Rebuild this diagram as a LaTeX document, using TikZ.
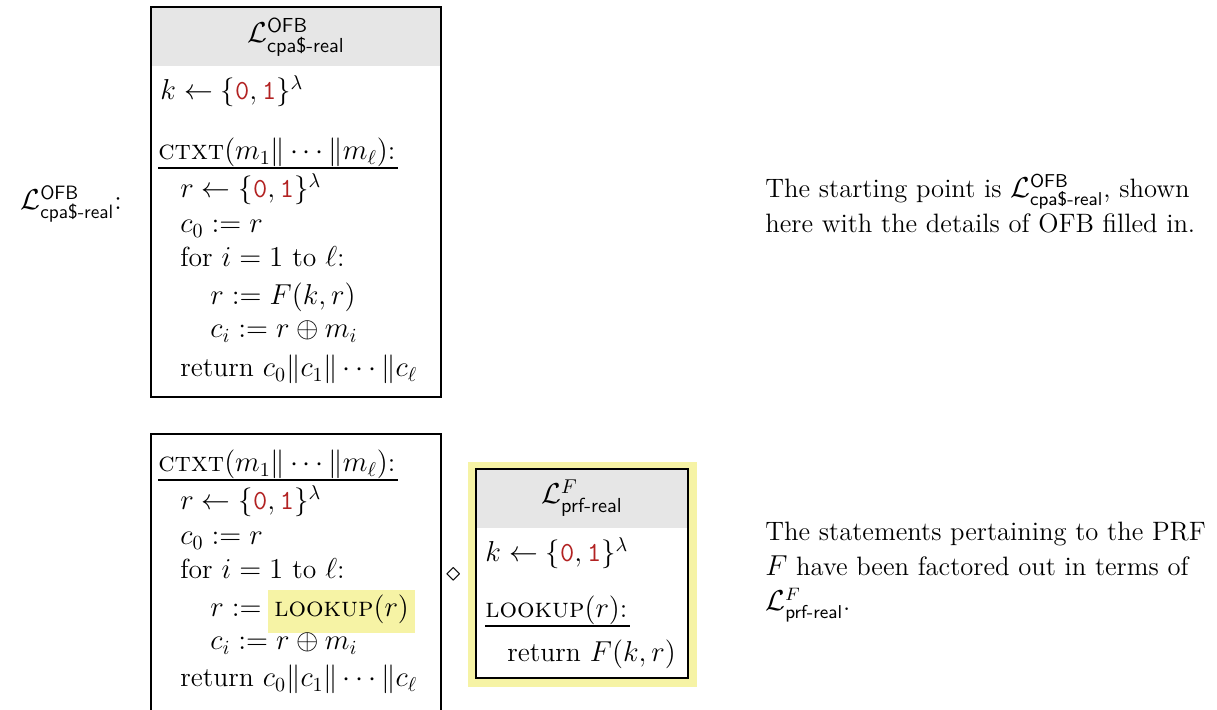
\documentclass[tikz,border=0pt]{standalone}
\usepackage{amsmath,amssymb}
\usepackage{xcolor}
\definecolor{hdrgray}{RGB}{230,230,230}
\definecolor{hlyellow}{RGB}{246,243,165}
\definecolor{bitred}{RGB}{178,34,34}
\newcommand{\mybits}{\{\texttt{\color{bitred}0},\texttt{\color{bitred}1}\}}
\newcommand{\myfs}{\fontsize{13.8}{17.6}\selectfont}
\newcommand{\myparafs}{\fontsize{13.3}{17.6}\selectfont}
\begin{document}
\begin{tikzpicture}[x=0.5pt,y=-0.5pt,
  txt/.style={anchor=base west,inner sep=0pt,font=\myfs},
  ttl/.style={anchor=center,inner sep=0pt,font=\fontsize{14.5}{17.6}\selectfont},
  para/.style={anchor=base west,inner sep=0pt,align=left,font=\myparafs},
  frame/.style={line width=0.6pt},
  uline/.style={line width=0.6pt}]
\useasboundingbox (0,0) rectangle (1217,710);
% ---------- top library ----------
\fill[hdrgray] (151,7) rectangle (441,66);
\draw[frame] (151,7) rectangle (441,397);
\node[ttl] (t1) at (296,37) {$\mathcal{L}^{\textsf{OFB}}_{\textsf{cpa\$-real}}$};
\node[txt] (k1) at (160,100) {$k \leftarrow \mybits^{\lambda}$};
\node[txt] (c1) at (158,160) {$\textsc{ctxt}(m_1\|\cdots\|m_\ell)$:};
\draw[uline] ([yshift=-4pt]c1.base west) -- ([yshift=-4pt,xshift=1pt]c1.base east);
\node[txt] (a1) at (180,198) {$r \leftarrow \mybits^{\lambda}$};
\node[txt] (b1) at (180,233) {$c_0 \mathrel{:=} r$};
\node[txt] (f1) at (180,267) {for $i = 1$ to $\ell$:};
\node[txt] (g1) at (210,305) {$r \mathrel{:=} F(k,r)$};
\node[txt] (h1) at (210,338) {$c_i \mathrel{:=} r \oplus m_i$};
\node[txt] (r1) at (180,377) {return $c_0\|c_1\|\cdots\|c_\ell$};
\node[txt] (lab) at (20,210) {$\mathcal{L}^{\textsf{OFB}}_{\textsf{cpa\$-real}}$:};
% ---------- bottom ----------
\draw[frame] (151,710) -- (151,434) -- (441,434) -- (441,710);
\node[txt] (c2) at (158,472) {$\textsc{ctxt}(m_1\|\cdots\|m_\ell)$:};
\draw[uline] ([yshift=-4pt]c2.base west) -- ([yshift=-4pt,xshift=1pt]c2.base east);
\node[txt] (a2) at (180,510) {$r \leftarrow \mybits^{\lambda}$};
\node[txt] (b2) at (180,545) {$c_0 \mathrel{:=} r$};
\node[txt] (f2) at (180,579) {for $i = 1$ to $\ell$:};
\node[txt] (g2) at (210,617) {$r \mathrel{:=}$};
\node[txt,fill=hlyellow,inner xsep=3pt,inner ysep=0pt,text height=13.5pt,text depth=8pt] (lk) at (268,617) {$\textsc{lookup}(r)$};
\node[txt] (h2) at (210,650) {$c_i \mathrel{:=} r \oplus m_i$};
\node[txt] (r2) at (180,687) {return $c_0\|c_1\|\cdots\|c_\ell$};
\node[inner sep=0pt,font=\myfs] (dia) at (454,575) {$\diamond$};
% ---------- prf library ----------
\fill[hlyellow] (468,462) rectangle (697,687);
\fill[white] (476,469) rectangle (688,678);
\fill[hdrgray] (476,469) rectangle (688,528);
\draw[frame] (476,469) rectangle (688,678);
\node[ttl] (t2) at (582,498) {$\mathcal{L}^{F}_{\textsf{prf-real}}$};
\node[txt] (k2) at (485,562) {$k \leftarrow \mybits^{\lambda}$};
\node[txt] (l2) at (485,618) {$\textsc{lookup}(r)$:};
\draw[uline] ([yshift=-4pt]l2.base west) -- ([yshift=-4pt,xshift=1pt]l2.base east);
\node[txt] (p2) at (507,662) {return $F(k,r)$};
% ---------- commentary ----------
\node[para] (n1) at (765,233) {The starting point is $\mathcal{L}^{\textsf{OFB}}_{\textsf{cpa\$-real}}$, shown\\ here with the details of OFB filled in.};
\node[para] (n2) at (765,611) {The statements pertaining to the PRF\\ $F$ have been factored out in terms of\\ $\mathcal{L}^{F}_{\textsf{prf-real}}$.};
\end{tikzpicture}
\end{document}
